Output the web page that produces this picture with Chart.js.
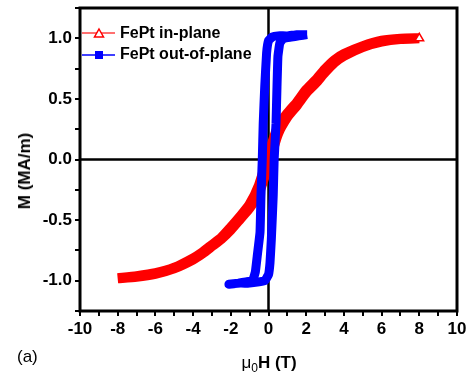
<!DOCTYPE html>
<html>
<head>
<meta charset="utf-8">
<script src="https://cdn.jsdelivr.net/npm/chart.js@4/dist/chart.umd.min.js"></script>
<style>
  body { margin: 0; background: #fff; }
  #wrap { position: relative; width: 468px; height: 376px; font-family: "Liberation Sans", Arial, sans-serif; }
  #price-chart { position: absolute; left: 0; top: 0; }
  .lbl { position: absolute; color: #000; white-space: nowrap; }
  #x-title { left: 269px; top: 353px; transform: translateX(-50%); font-size: 17px; font-weight: bold; }
  #x-title .mu { font-weight: normal; }
  #x-title sub { font-size: 12px; font-weight: normal; }
  #y-title { left: 25px; top: 171px; transform: translate(-50%, -50%) rotate(-90deg); font-size: 17px; font-weight: bold; }
  #panel { left: 17px; top: 347px; font-size: 17px; }
  .leg { left: 120px; font-size: 16px; font-weight: bold; }
</style>
</head>
<body>
<div id="wrap">
  <canvas id="price-chart" width="468" height="376"></canvas>
  <div class="lbl leg" style="top:24px">FePt in-plane</div>
  <div class="lbl leg" style="top:45px">FePt out-of-plane</div>
  <div class="lbl" id="y-title">M (MA/m)</div>
  <div class="lbl" id="x-title"><span class="mu">μ</span><sub>0</sub>H (T)</div>
  <div class="lbl" id="panel">(a)</div>
</div>
<script>
// in-plane loop, field going down from +8 T
const inPlaneDownH = [8, 7, 6, 5, 4, 3.5, 3, 2.5, 2, 1.5, 1, 0.5, 0, -0.5, -1, -1.5, -2, -2.5, -3, -3.5, -4, -5, -6, -7, -8]
const inPlaneDownM = [1.0, 0.997, 0.98, 0.935, 0.87, 0.82, 0.745, 0.655, 0.575, 0.47, 0.38, 0.27, 0.04, -0.21, -0.37, -0.47, -0.56, -0.645, -0.705, -0.765, -0.815, -0.892, -0.938, -0.963, -0.98]
// in-plane loop, field going back up
const inPlaneUpH = [-8, -7, -6, -5, -4, -3.5, -3, -2.5, -2, -1.5, -1, -0.5, 0, 0.5, 1, 1.5, 2, 2.5, 3, 3.5, 4, 5, 6, 7, 8]
const inPlaneUpM = [-0.98, -0.967, -0.943, -0.898, -0.825, -0.775, -0.715, -0.655, -0.58, -0.49, -0.40, -0.27, -0.04, 0.21, 0.35, 0.445, 0.55, 0.63, 0.72, 0.8, 0.855, 0.928, 0.972, 0.994, 1.0]

// out-of-plane loop
const outPlaneDownH = [2.05, 1.5, 1.0, 0.5, 0.2, 0.0, -0.1, -0.2, -0.28, -0.33, -0.4, -0.45, -0.6, -0.7, -0.85, -1.2, -1.6, -2.1]
const outPlaneDownM = [1.03, 1.03, 1.02, 1.02, 1.01, 0.98, 0.88, 0.6, 0.3, 0.0, -0.3, -0.6, -0.8, -0.93, -1.0, -1.01, -1.02, -1.03]
const outPlaneUpH = [-2.1, -1.5, -1.0, -0.5, -0.2, 0.0, 0.08, 0.15, 0.25, 0.3, 0.4, 0.45, 0.5, 0.6, 0.8, 1.2, 1.6, 2.05]
const outPlaneUpM = [-1.03, -1.02, -1.02, -1.01, -1.0, -0.95, -0.85, -0.66, -0.3, 0.0, 0.3, 0.6, 0.85, 0.96, 1.0, 1.01, 1.02, 1.03]

const xTickValues = [-10, -8, -6, -4, -2, 0, 2, 4, 6, 8, 10]
const yTickValues = [-1.0, -0.5, 0.0, 0.5, 1.0]

function toPoints(hs, ms) {
    return hs.map((h, i) => ({ x: h, y: ms[i] }))
}

const inPlaneData = toPoints(inPlaneDownH, inPlaneDownM).concat(toPoints(inPlaneUpH, inPlaneUpM))
const outPlaneData = toPoints(outPlaneDownH, outPlaneDownM).concat(toPoints(outPlaneUpH, outPlaneUpM))

// frame, zero lines and legend symbols
const framePlugin = {
    id: 'frame',
    beforeDatasetsDraw(chart) {
        const { ctx, chartArea: a, scales } = chart
        const x0 = scales.x.getPixelForValue(0)
        const y0 = scales.y.getPixelForValue(0)
        ctx.save()
        ctx.strokeStyle = '#000'
        ctx.lineWidth = 2.5
        ctx.beginPath()
        ctx.moveTo(x0, a.top); ctx.lineTo(x0, a.bottom)
        ctx.moveTo(a.left, y0); ctx.lineTo(a.right, y0)
        ctx.stroke()
        ctx.restore()
    },
    afterDatasetsDraw(chart) {
        const { ctx, chartArea: a } = chart
        ctx.save()
        ctx.strokeStyle = '#000'
        ctx.lineWidth = 3
        ctx.strokeRect(a.left, a.top, a.right - a.left, a.bottom - a.top)

        // legend: red line + open triangle
        ctx.lineWidth = 1.5
        ctx.strokeStyle = '#ff4040'
        ctx.beginPath(); ctx.moveTo(82, 33); ctx.lineTo(115, 33); ctx.stroke()
        ctx.fillStyle = '#fff'
        ctx.strokeStyle = '#ff0000'
        ctx.beginPath(); ctx.moveTo(99, 29); ctx.lineTo(103.5, 37); ctx.lineTo(94.5, 37); ctx.closePath()
        ctx.fill(); ctx.stroke()

        // legend: blue line + filled square
        ctx.strokeStyle = '#0000ff'
        ctx.beginPath(); ctx.moveTo(82, 55); ctx.lineTo(115, 55); ctx.stroke()
        ctx.fillStyle = '#0000ff'
        ctx.fillRect(95, 51, 8, 8)
        ctx.restore()
    }
}

const tickFont = { family: '"Liberation Sans", Arial, sans-serif', size: 17, weight: 'bold' }

ctx = document.getElementById('price-chart')
const loopChart = new Chart(ctx, {
    type: 'scatter',
    data: {
        datasets: [{
            label: 'FePt in-plane',
            data: inPlaneData,
            showLine: true,
            borderColor: '#ff0000',
            borderWidth: 10,
            tension: 0.2,
            pointStyle: 'triangle',
            pointRadius: c => (c.dataIndex === 0 ? 5 : 0),
            pointBackgroundColor: '#fff',
            pointBorderColor: '#ff0000',
            pointBorderWidth: 1.5,
            order: 2
        }, {
            label: 'FePt out-of-plane',
            data: outPlaneData,
            showLine: true,
            borderColor: '#0000ff',
            borderWidth: 9,
            borderJoinStyle: 'round',
            tension: 0.1,
            pointRadius: 0,
            order: 1
        }]
    },
    options: {
        responsive: false,
        animation: false,
        devicePixelRatio: 1,
        layout: { padding: { top: 8, right: 11, left: 0, bottom: 0 } },
        plugins: {
            legend: { display: false },
            tooltip: { enabled: false }
        },
        scales: {
            x: {
                type: 'linear',
                min: -10,
                max: 10,
                afterFit: s => { s.height = 65; s.paddingLeft = 0; s.paddingRight = 0 },
                border: { display: false },
                grid: { drawOnChartArea: false, color: '#000', lineWidth: 2, tickLength: 5 },
                ticks: {
                    stepSize: 1,
                    autoSkip: false,
                    maxRotation: 0,
                    padding: 3,
                    color: '#000',
                    font: tickFont,
                    callback: v => (xTickValues.includes(v) ? String(v) : '')
                }
            },
            y: {
                min: -1.25,
                max: 1.25,
                afterFit: s => { s.width = 80; s.paddingTop = 0; s.paddingBottom = 0 },
                border: { display: false },
                grid: { drawOnChartArea: false, color: '#000', lineWidth: 2, tickLength: 5 },
                ticks: {
                    stepSize: 0.25,
                    autoSkip: false,
                    padding: 3,
                    color: '#000',
                    font: tickFont,
                    callback: v => (yTickValues.some(t => Math.abs(t - v) < 1e-9) ? v.toFixed(1) : '')
                }
            }
        }
    },
    plugins: [framePlugin]
})
</script>
</body>
</html>
